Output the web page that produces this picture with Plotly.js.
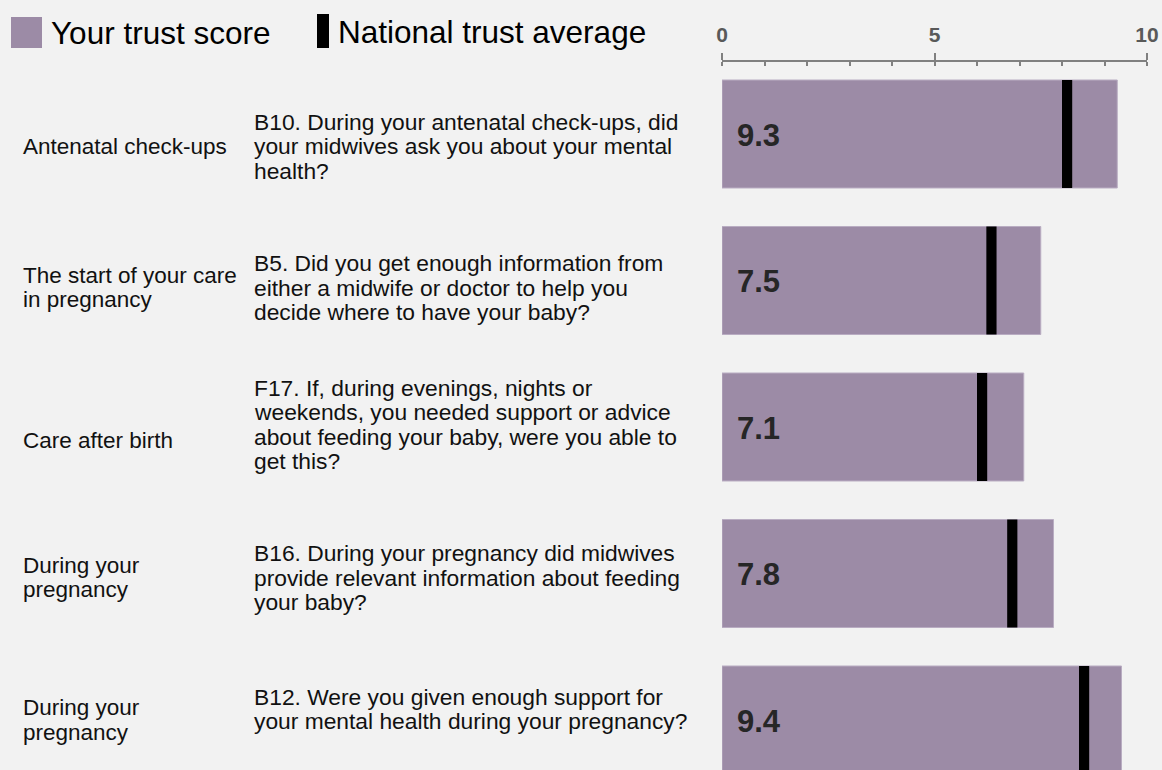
<!DOCTYPE html>
<html>
<head>
<meta charset="utf-8">
<script src="https://cdn.plot.ly/plotly-3.0.1.min.js"></script>
<style>
html,body{margin:0;padding:0;background:#f2f2f2;overflow:hidden;}
#chart{width:1162px;height:770px;}
</style>
</head>
<body>
<div id="chart"></div>
<script>
// ---- data ----
const themes = [
  "Antenatal check-ups",
  "The start of your care<br>in pregnancy",
  "Care after birth",
  "During your<br>pregnancy",
  "During your<br>pregnancy"
];
const questions = [
  "B10. During your antenatal check-ups, did<br>your midwives ask you about your mental<br>health?",
  "B5. Did you get enough information from<br>either a midwife or doctor to help you<br>decide where to have your baby?",
  "F17. If, during evenings, nights or<br>weekends, you needed support or advice<br>about feeding your baby, were you able to<br>get this?",
  "B16. During your pregnancy did midwives<br>provide relevant information about feeding<br>your baby?",
  "B12. Were you given enough support for<br>your mental health during your pregnancy?"
];
const trustScore = [9.3, 7.5, 7.1, 7.8, 9.4];
const nationalAvg = [8.12, 6.34, 6.12, 6.83, 8.52];
const axisTicks = [0, 5, 10];
const legendLabels = ["Your trust score", "National trust average"];

// ---- layout helpers ----
const FONT = "Liberation Sans, Arial, sans-serif";
const WIDTH = 1162, HEIGHT = 770;
const M = {l: 722, r: 15, t: 62, b: 0};
const PW = WIDTH - M.l - M.r, PH = HEIGHT - M.t - M.b;
const px = x => (x - M.l) / PW;
const py = y => 1 - (y - M.t) / PH;
const BAR_COLOR = "#9c8ba6";
const MARK_W = 0.24;
const BAR_W = 0.737;
const LINE_GAP = 24.5;
const qCenter = [12, 7, -2.5, 4, -11];
const tCenter = [12, 7, 13, 4, 0];

const idx = trustScore.map((_, i) => i);

const traces = [
  {
    type: "bar", orientation: "h",
    x: trustScore, y: idx, width: BAR_W,
    marker: {color: BAR_COLOR, line: {color: "#b9adc2", width: 1}},
    hoverinfo: "x", showlegend: false
  },
  {
    type: "bar", orientation: "h",
    x: nationalAvg.map(() => MARK_W), base: nationalAvg.map(v => v - MARK_W / 2),
    y: idx, width: BAR_W,
    marker: {color: "#000000"},
    hoverinfo: "skip", showlegend: false
  },
  {type: "scatter", x: [], y: [], xaxis: "x2", showlegend: false}
];

const annotations = [];
function addLines(text, i, xPix, centerOff, size, color) {
  const lines = text.split("<br>");
  const n = lines.length;
  lines.forEach((ln, k) => {
    const off = centerOff + (k - (n - 1) / 2) * LINE_GAP;
    annotations.push({
      xref: "paper", yref: "y", x: px(xPix), y: i, yshift: -off,
      xanchor: "left", yanchor: "middle", showarrow: false,
      text: ln, font: {family: FONT, size: size, color: color}
    });
  });
}
themes.forEach((t, i) => addLines(t, i, 21, tCenter[i], 22.5, "#111111"));
questions.forEach((q, i) => addLines(q, i, 252, qCenter[i], 22.8, "#111111"));
trustScore.forEach((v, i) => {
  annotations.push({
    xref: "x", yref: "y", x: 0, y: i, xshift: 13, yshift: -1,
    xanchor: "left", yanchor: "middle", showarrow: false,
    text: v.toFixed(1),
    font: {family: FONT, size: 31, color: "#262626", weight: "bold"}
  });
});
// legend texts
annotations.push({
  xref: "paper", yref: "paper", x: px(49), y: py(33), xanchor: "left", yanchor: "middle",
  showarrow: false, text: legendLabels[0], font: {family: FONT, size: 31.5, color: "#000"}
});
annotations.push({
  xref: "paper", yref: "paper", x: px(336), y: py(32), xanchor: "left", yanchor: "middle",
  showarrow: false, text: legendLabels[1], font: {family: FONT, size: 31.5, color: "#000"}
});

const shapes = [
  {type: "rect", xref: "paper", yref: "paper", x0: px(11), x1: px(42), y0: py(48), y1: py(17),
   fillcolor: BAR_COLOR, line: {width: 0}},
  {type: "rect", xref: "paper", yref: "paper", x0: px(317), x1: px(329), y0: py(48), y1: py(14),
   fillcolor: "#000", line: {width: 0}}
];

const layout = {
  width: WIDTH, height: HEIGHT,
  margin: M,
  paper_bgcolor: "#f2f2f2", plot_bgcolor: "#f2f2f2",
  barmode: "overlay",
  showlegend: false,
  xaxis: {
    side: "top", range: [0, 10], fixedrange: true,
    tickvals: axisTicks, ticktext: axisTicks.map(String),
    ticks: "outside", ticklen: 7, tickwidth: 2, tickcolor: "#808080",
    minor: {dtick: 1, ticks: "inside", ticklen: 4, tickwidth: 2, tickcolor: "#808080", showgrid: false},
    showline: true, linecolor: "#808080", linewidth: 2.5,
    showgrid: false, zeroline: false,
    tickfont: {family: FONT, size: 21, color: "#595959", weight: "bold"},
    ticklabelstandoff: 2
  },
  xaxis2: {
    overlaying: "x", side: "top", range: [0, 10],
    tickvals: axisTicks, ticks: "inside", ticklen: 4, tickwidth: 2, tickcolor: "#808080",
    showticklabels: false, showline: false, showgrid: false, zeroline: false
  },
  yaxis: {
    range: [4 + (770 - 720) / 146.5, -(134 - 62) / 146.5],
    showticklabels: false, showgrid: false, zeroline: false, showline: false, ticks: "",
    fixedrange: true
  },
  annotations: annotations,
  shapes: shapes
};

Plotly.newPlot("chart", traces, layout, {displayModeBar: false, staticPlot: true});
</script>
</body>
</html>
